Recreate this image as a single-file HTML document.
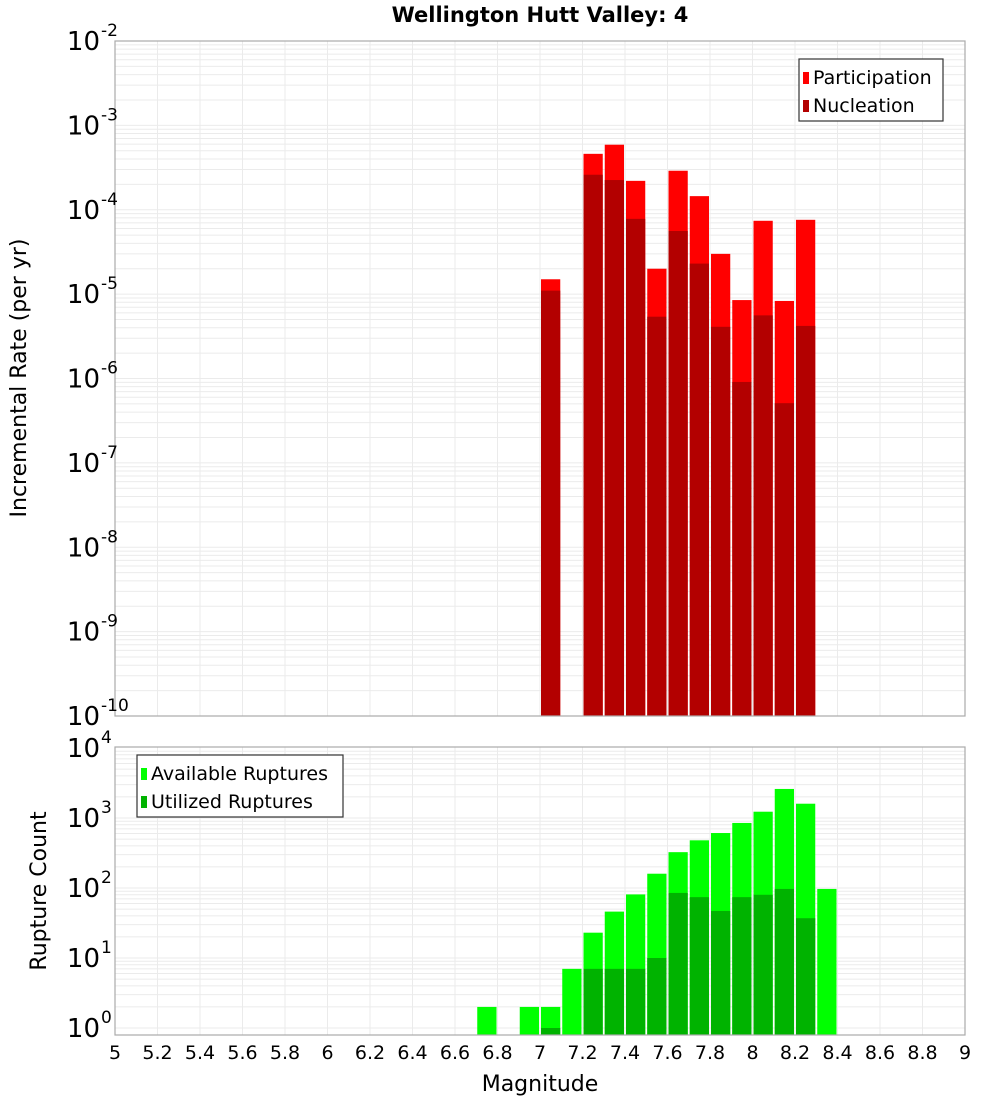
<!DOCTYPE html>
<html><head><meta charset="utf-8"><style>
body{margin:0;background:#fff;}
svg{display:block;font-family:"DejaVu Sans","Liberation Sans",sans-serif;}
</style></head><body>
<svg id="chart" width="1000" height="1100" xmlns="http://www.w3.org/2000/svg">
<text x="540" y="22" text-anchor="middle" font-size="21" font-weight="bold">Wellington Hutt Valley: 4</text>
<g id="top"></g>
<g id="bot"></g>
<text transform="translate(26,378) rotate(-90)" text-anchor="middle" font-size="22">Incremental Rate (per yr)</text>
<text transform="translate(46,891) rotate(-90)" text-anchor="middle" font-size="22">Rupture Count</text>
<text x="540" y="1091" text-anchor="middle" font-size="22">Magnitude</text>
</svg>
<script>
const binStarts=[7.0,7.1,7.2,7.3,7.4,7.5,7.6,7.7,7.8,7.9,8.0,8.1,8.2];
const participation=[1.5e-5,0,4.6e-4,5.9e-4,2.2e-4,2.0e-5,2.9e-4,1.45e-4,3.0e-5,8.5e-6,7.4e-5,8.3e-6,7.6e-5];
const nucleation=[1.1e-5,0,2.6e-4,2.25e-4,7.8e-5,5.4e-6,5.6e-5,2.3e-5,4.1e-6,9.1e-7,5.6e-6,5.1e-7,4.2e-6];
const countBins=[6.7,6.8,6.9,7.0,7.1,7.2,7.3,7.4,7.5,7.6,7.7,7.8,7.9,8.0,8.1,8.2,8.3];
const available=[2,0,2,2,7,23,46,81,160,325,480,610,850,1230,2600,1600,97];
const utilized=[0,0,0,1,0,7,7,7,10,85,74,47,74,80,97,37,0];
const xTicks=["5","5.2","5.4","5.6","5.8","6","6.2","6.4","6.6","6.8","7","7.2","7.4","7.6","7.8","8","8.2","8.4","8.6","8.8","9"];
const topDecades=[-2,-3,-4,-5,-6,-7,-8,-9,-10];
const botDecades=[4,3,2,1,0];
const NS="http://www.w3.org/2000/svg";
const X0=115,X1=965;
function sx(m){return X0+(m-5)/4*(X1-X0);}
function mk(p,tag,a){const e=document.createElementNS(NS,tag);for(const k in a)e.setAttribute(k,a[k]);p.appendChild(e);return e;}
function panel(g,top,bot,dmax,dmin,ylog,name){
  const bg=mk(g,'rect',{x:X0,y:top,width:X1-X0,height:bot-top,fill:'#fff'});
  
  
  for(let d=dmin;d<dmax;d++)for(let k=1;k<10;k++){const y=ylog(k*Math.pow(10,d));
    const l=mk(g,'line',{x1:X0,x2:X1,y1:y,y2:y,stroke:'#ebebeb','stroke-width':1});
    
    }
  xTicks.forEach(t=>{const x=sx(+t);const l=mk(g,'line',{x1:x,x2:x,y1:top,y2:bot,stroke:'#ebebeb'});
    
    });
}
function frame(g,top,bot,name){const f=mk(g,'rect',{x:X0,y:top,width:X1-X0,height:bot-top,fill:'none',stroke:'#aaa','stroke-width':1.2});
  
  }
function ylabel(g,y,exp){const t=mk(g,'text',{x:100,y:y+9,'text-anchor':'end','font-size':26});t.textContent='10';
  
  
  const s=mk(g,'text',{x:101,y:y-5,'font-size':17});s.textContent=String(exp);
  
  }
function bar(g,m,v,ylog,bot,col,name){if(!(v>0))return;const x=sx(m)+1,w=sx(m+0.1)-sx(m)-2;const y=ylog(v);
  const r=mk(g,'rect',{x:x,y:y,width:w,height:bot-y,fill:col});
  
  }
function legend(g,x,y,w,items){const b=mk(g,'rect',{x:x,y:y,width:w,height:62,fill:'#fff',stroke:'#333','stroke-width':1.2});
  
  
  items.forEach((it,i)=>{const sw=mk(g,'rect',{x:x+4,y:y+13+i*28,width:6,height:12,fill:it[1]});
    
    
    const t=mk(g,'text',{x:x+14,y:y+25+i*28,'font-size':19});t.textContent=it[0];
    
    });}
// top
const gT=document.getElementById('top'),T0=41,T1=716;
const yT=v=>T0+(-2-Math.log10(v))/8*(T1-T0);
panel(gT,T0,T1,-2,-10,yT,'rate');
binStarts.forEach((m,i)=>bar(gT,m,participation[i],yT,T1,'#ff0000','bar-participation'));
binStarts.forEach((m,i)=>bar(gT,m,nucleation[i],yT,T1,'#b30000','bar-nucleation'));
frame(gT,T0,T1,'rate');
topDecades.forEach(d=>ylabel(gT,yT(Math.pow(10,d)),d));
legend(gT,799,59,144,[['Participation','#ff0000'],['Nucleation','#b30000']]);
// bottom
const gB=document.getElementById('bot'),B0=747,B1=1035;
const yB=v=>1028-Math.log10(v)*70;
panel(gB,B0,B1,4,0,v=>Math.min(B1,Math.max(B0,yB(v))),'count');
countBins.forEach((m,i)=>bar(gB,m,available[i],yB,B1,'#00ff00','bar-available'));
countBins.forEach((m,i)=>bar(gB,m,utilized[i],yB,B1,'#00b300','bar-utilized'));
frame(gB,B0,B1,'count');
botDecades.forEach(d=>ylabel(gB,yB(Math.pow(10,d)),d));
legend(gB,137,755,206,[['Available Ruptures','#00ff00'],['Utilized Ruptures','#00b300']]);
xTicks.forEach(t=>{const e=mk(gB,'text',{x:sx(+t),y:1059,'text-anchor':'middle','font-size':19});e.textContent=t;
  
  });
</script>
</body></html>
